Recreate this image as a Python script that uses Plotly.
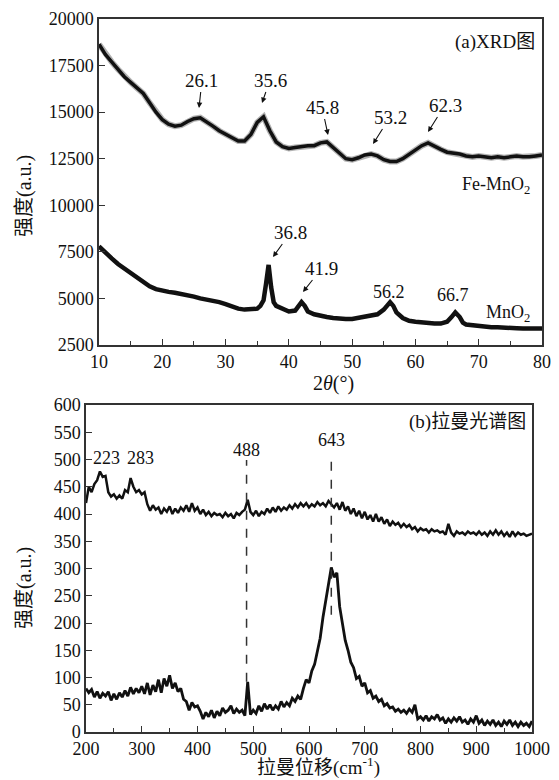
import plotly.graph_objects as go

# ---------------- (a) XRD data ----------------
fe_x = list(range(10, 81))
fe_y = [18650, 18100, 17700, 17300, 16900, 16600, 16300, 16000, 15500, 15000,
        14600, 14350, 14250, 14300, 14500, 14650, 14700, 14500, 14250, 14000,
        13800, 13600, 13450, 13450, 13800, 14450, 14750, 14000, 13400, 13150,
        13050, 13100, 13150, 13200, 13200, 13350, 13400, 13100, 12750, 12500,
        12450, 12550, 12700, 12750, 12650, 12450, 12350, 12350, 12500, 12750,
        13000, 13200, 13350, 13150, 13000, 12850, 12800, 12750, 12650, 12600,
        12650, 12600, 12550, 12600, 12550, 12600, 12650, 12600, 12600, 12650,
        12700]

mn_x = [10, 11, 12, 13, 14, 15, 16, 17, 18, 19, 20, 21, 22, 23, 24, 25, 26, 27, 28, 29,
        30, 31, 32, 33, 34, 35, 35.5, 36, 36.4, 36.8, 37.2, 37.6, 38, 39, 40, 41, 41.5,
        42, 42.5, 43, 44, 45, 46, 47, 48, 49, 50, 51, 52, 53, 54, 55, 55.5, 56, 56.5,
        57, 58, 59, 60, 61, 62, 63, 64, 65, 65.7, 66.3, 67, 67.5, 68, 69, 70, 71, 72,
        73, 74, 75, 76, 77, 78, 79, 80]
mn_y = [7800, 7450, 7150, 6850, 6600, 6400, 6150, 5900, 5650, 5500, 5400, 5350, 5300,
        5250, 5200, 5100, 5000, 4950, 4850, 4800, 4700, 4550, 4450, 4400, 4400, 4450,
        4600, 4900, 5800, 6800, 5600, 4800, 4600, 4450, 4300, 4350, 4550, 4800, 4600,
        4300, 4150, 4050, 4000, 3950, 3900, 3900, 3900, 3950, 4000, 4050, 4150, 4400,
        4650, 4800, 4600, 4250, 3950, 3800, 3750, 3700, 3700, 3650, 3650, 3750, 4000,
        4250, 4000, 3700, 3600, 3550, 3550, 3500, 3450, 3450, 3450, 3400, 3400, 3380,
        3380, 3380, 3380]

# arrow labels: text, tip x, tip y, text offset (px)
xrd_arrow_text = ["26.1", "35.6", "45.8", "53.2", "62.3", "36.8", "41.9"]
xrd_arrow_x = [25.8, 35.76, 46.19, 53.3, 61.99, 37.49, 42.23]
xrd_arrow_y = [15222, 15491, 13773, 13290, 13934, 7224, 5344]
xrd_arrow_ax = [3, 8, -6, 17, 17, 18, 19]
xrd_arrow_ay = [-28, -23, -28, -27, -27, -25, -24]

xrd_plain_text = ["56.2", "66.7", "MnO<sub>2</sub>", "Fe-MnO<sub>2</sub>"]
xrd_plain_x = [55.82, 65.94, 74.6, 72.7]
xrd_plain_y = [5344, 5183, 4217, 11088]

# ---------------- (b) Raman data ----------------
raman_x = list(range(200, 1001, 5))
raman_fe = [420, 450, 440, 455, 462, 478, 468, 470, 440, 432,
            436, 428, 434, 428, 444, 440, 466, 450, 440, 444,
            436, 440, 418, 406, 416, 408, 412, 400, 410, 404,
            414, 400, 410, 402, 412, 406, 416, 404, 420, 406,
            412, 400, 408, 398, 404, 396, 402, 398, 400, 394,
            402, 396, 400, 392, 402, 398, 404, 408, 426, 404,
            398, 406, 396, 404, 400, 410, 402, 412, 404, 414,
            406, 412, 408, 416, 410, 418, 412, 420, 414, 420,
            412, 418, 414, 422, 416, 420, 414, 424, 418, 412,
            420, 408, 422, 406, 414, 400, 410, 396, 406, 392,
            404, 390, 398, 386, 400, 386, 394, 382, 390, 378,
            386, 380, 384, 376, 382, 376, 380, 372, 376, 368,
            374, 370, 372, 366, 372, 368, 370, 366, 368, 362,
            382, 366, 360, 368, 364, 366, 362, 368, 364, 366,
            362, 368, 362, 366, 360, 368, 362, 370, 362, 368,
            360, 366, 358, 368, 360, 366, 362, 364, 360, 362,
            364]
raman_mn = [80, 72, 78, 64, 74, 62, 71, 66, 74, 58,
            70, 60, 72, 64, 76, 66, 82, 70, 80, 72,
            84, 70, 90, 68, 86, 74, 96, 72, 98, 84,
            104, 80, 90, 74, 80, 60, 56, 40, 54, 46,
            48, 38, 24, 36, 28, 40, 26, 38, 30, 44,
            36, 40, 48, 34, 42, 36, 40, 30, 92, 32,
            40, 34, 48, 38, 52, 42, 50, 40, 48, 42,
            56, 46, 54, 48, 62, 56, 66, 60, 80, 96,
            90, 112, 124, 150, 172, 210, 240, 268, 302, 284,
            292, 230, 196, 168, 150, 128, 118, 98, 102, 84,
            90, 72, 76, 62, 66, 56, 60, 48, 52, 44,
            46, 38, 42, 36, 40, 34, 42, 36, 50, 24,
            28, 22, 30, 20, 28, 24, 32, 22, 26, 16,
            24, 18, 26, 20, 28, 18, 22, 14, 24, 18,
            30, 16, 22, 12, 20, 14, 22, 12, 18, 10,
            20, 14, 22, 12, 18, 10, 18, 12, 16, 10,
            20]

raman_text = ["223", "283", "488", "643"]
raman_text_x = [236, 297, 488, 640]
raman_text_y = [503, 503, 517, 535]
dash_x = [488, 640]
dash_top = [499, 510]
dash_bottom = [92, 215]

FONT = "Liberation Serif"
CJK = "Liberation Serif, Noto Sans CJK SC"
BLACK = "#111111"

fig = go.Figure()

# XRD traces
fig.add_trace(go.Scatter(x=fe_x, y=fe_y, mode="lines", xaxis="x", yaxis="y",
                         line=dict(color="rgba(0,0,0,0.3)", width=6), hoverinfo="skip"))
fig.add_trace(go.Scatter(x=fe_x, y=fe_y, mode="lines", xaxis="x", yaxis="y",
                         line=dict(color=BLACK, width=3.5)))
fig.add_trace(go.Scatter(x=mn_x, y=mn_y, mode="lines", xaxis="x", yaxis="y",
                         line=dict(color=BLACK, width=4.5)))

# Raman traces
fig.add_trace(go.Scatter(x=raman_x, y=raman_fe, mode="lines", xaxis="x2", yaxis="y2",
                         line=dict(color=BLACK, width=2.5)))
fig.add_trace(go.Scatter(x=raman_x, y=raman_mn, mode="lines", xaxis="x2", yaxis="y2",
                         line=dict(color=BLACK, width=2.8)))

axis_common = dict(showline=True, linecolor="#333333", linewidth=1.5, mirror=True,
                   ticks="inside", ticklen=6, tickwidth=1.2, tickcolor="#333333",
                   showgrid=False, zeroline=False, automargin=False, tickformat="d",
                   tickfont=dict(family=FONT, size=18, color=BLACK))

fig.update_layout(
    width=559, height=780,
    margin=dict(l=0, r=0, t=0, b=0, autoexpand=False),
    paper_bgcolor="white", plot_bgcolor="white",
    showlegend=False,
    font=dict(family=FONT, size=18, color=BLACK),
    xaxis=dict(domain=[99/559, 542/559], range=[10, 80], anchor="y",
               tickvals=[10, 20, 30, 40, 50, 60, 70, 80],
               minor=dict(dtick=5, tick0=5, ticks="inside", ticklen=4, tickcolor="#333333"),
               **axis_common),
    yaxis=dict(domain=[1-345/780, 1-19/780], range=[2500, 20000], anchor="x",
               tickvals=[2500, 5000, 7500, 10000, 12500, 15000, 17500, 20000],
               **axis_common),
    xaxis2=dict(domain=[86/559, 532/559], range=[200, 1000], anchor="y2",
                tickvals=[200, 300, 400, 500, 600, 700, 800, 900, 1000],
                minor=dict(dtick=50, tick0=250, ticks="inside", ticklen=4, tickcolor="#333333"),
                **axis_common),
    yaxis2=dict(domain=[1-732/780, 1-405/780], range=[0, 600], anchor="x2",
                tickvals=list(range(0, 601, 50)),
                **axis_common),
)

ann = []
for t, x, y, ax, ay in zip(xrd_arrow_text, xrd_arrow_x, xrd_arrow_y, xrd_arrow_ax, xrd_arrow_ay):
    ann.append(dict(text=t, x=x, y=y, xref="x", yref="y", showarrow=True,
                    ax=ax, ay=ay, arrowhead=2, arrowsize=1, arrowwidth=1.1,
                    arrowcolor=BLACK, font=dict(family=FONT, size=19, color=BLACK)))
for t, x, y in zip(xrd_plain_text, xrd_plain_x, xrd_plain_y):
    ann.append(dict(text=t, x=x, y=y, xref="x", yref="y", showarrow=False,
                    xanchor="center", yanchor="middle",
                    font=dict(family=FONT, size=18, color=BLACK)))
for t, x, y in zip(raman_text, raman_text_x, raman_text_y):
    ann.append(dict(text=t, x=x, y=y, xref="x2", yref="y2", showarrow=False,
                    xanchor="center", yanchor="middle",
                    font=dict(family=FONT, size=18, color=BLACK)))

def paper_text(text, px, py, size, xanchor="center", angle=0, family=CJK):
    ann.append(dict(text=text, x=px/559, y=1-py/780, xref="paper", yref="paper",
                    xanchor=xanchor, yanchor="middle", textangle=angle, showarrow=False,
                    font=dict(family=family, size=size, color=BLACK)))

paper_text("(a)XRD图", 537, 42, 19, xanchor="right")
paper_text("(b)拉曼光谱图", 528, 422, 19, xanchor="right")
paper_text("强度(a.u.)", 24, 196, 20, angle=-90)
paper_text("强度(a.u.)", 24, 588, 20, angle=-90)
paper_text("2<i>θ</i>(°)", 333, 383, 20, family=FONT)
paper_text("拉曼位移(cm<sup>-1</sup>)", 318, 766, 19)
fig.update_layout(annotations=ann)

shapes = []
for x, y0, y1 in zip(dash_x, dash_bottom, dash_top):
    shapes.append(dict(type="line", xref="x2", yref="y2", x0=x, x1=x, y0=y0, y1=y1,
                       line=dict(color="#333333", width=1.5, dash="dash")))
fig.update_layout(shapes=shapes)

fig.write_html("out.html")
